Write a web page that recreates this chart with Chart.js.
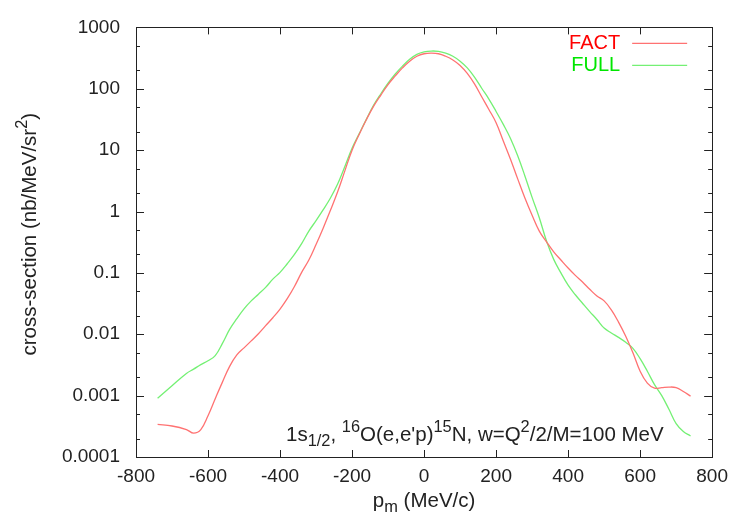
<!DOCTYPE html>
<html>
<head>
<meta charset="utf-8">
<title>1s1/2 16O(e,e'p)15N cross-section</title>
<script src="https://cdn.jsdelivr.net/npm/chart.js@4/dist/chart.umd.min.js"></script>
<style>
  html, body { margin: 0; padding: 0; background: #fff; }
  #chart { display: block; }
</style>
</head>
<body>
<canvas id="chart" width="736" height="520"></canvas>
<script>
// missing momentum p_m (MeV/c)
const pm = [-740, -700, -660, -640, -620, -600, -580, -560, -540, -520, -500, -480, -460, -440, -420,
  -400, -380, -360, -340, -320, -300, -280, -260, -240, -220, -200, -180, -160, -140, -120, -100, -80,
  -60, -40, -20, 0, 20, 40, 60, 80, 100, 120, 140, 160, 180, 200, 220, 240, 260, 280, 300, 320, 340,
  360, 380, 400, 420, 440, 460, 480, 500, 520, 540, 560, 580, 600, 620, 640, 660, 680, 700, 720, 740];

// cross-section (nb/MeV/sr^2)
const fact = [0.00034, 0.00032, 0.00028, 0.000245, 0.00028, 0.00047, 0.00089, 0.00166, 0.0030, 0.0046,
  0.0060, 0.0078, 0.0102, 0.0138, 0.0186, 0.0257, 0.038, 0.060, 0.102, 0.162, 0.29, 0.54, 1.05, 2.1, 4.6,
  10, 18.2, 31.6, 52, 79, 117, 162, 219, 282, 339, 372, 380, 372, 339, 295, 240, 178, 120, 74, 46, 28,
  14.1, 7.1, 3.4, 1.66, 0.87, 0.48, 0.32, 0.22, 0.162, 0.120, 0.091, 0.071, 0.054, 0.042, 0.035, 0.025,
  0.0158, 0.0093, 0.0050, 0.0025, 0.0016, 0.00132, 0.00135, 0.00138, 0.00135, 0.00117, 0.00098];

const full = [0.00091, 0.00145, 0.0023, 0.0027, 0.0032, 0.0037, 0.0045, 0.0071, 0.012, 0.018, 0.026,
  0.035, 0.045, 0.058, 0.079, 0.102, 0.141, 0.20, 0.30, 0.48, 0.71, 1.07, 1.66, 2.8, 5.4, 10.7, 18.6,
  32, 54, 83, 123, 174, 234, 302, 363, 398, 412, 407, 380, 339, 282, 219, 155, 102, 68, 42.7, 26.3, 15.5,
  8.1, 3.8, 1.70, 0.79, 0.33, 0.166, 0.100, 0.063, 0.044, 0.032, 0.0234, 0.0174, 0.0126, 0.0105, 0.0089,
  0.0074, 0.0059, 0.0040, 0.0025, 0.00151, 0.00100, 0.00060, 0.00035, 0.00026, 0.00022];

const seriesNames = ['FACT', 'FULL'];
const xTicks = [-800, -600, -400, -200, 0, 200, 400, 600, 800];
const yMajor = [0.0001, 0.001, 0.01, 0.1, 1, 10, 100, 1000];
const yLabels = ['0.0001', '0.001', '0.01', '0.1', '1', '10', '100', '1000'];
const yMinor = [0.0002, 0.0005, 0.002, 0.005, 0.02, 0.05, 0.2, 0.5, 2, 5, 20, 50, 200, 500];

const FONT = '"Liberation Sans", Arial, sans-serif';
const lineColors = ['#ff7272', '#74f074'];
const textColors = ['#ff0000', '#00e600'];

// draw text made of normal / sup / sub pieces
function drawRich(ctx, parts, x, y, size, align) {
  const fontOf = k => (k ? size * 0.8 : size) + 'px ' + FONT;
  const widths = parts.map(p => { ctx.font = fontOf(p[1]); return ctx.measureText(p[0]).width; });
  const total = widths.reduce((a, b) => a + b, 0);
  let cx = align === 'center' ? x - total / 2 : (align === 'right' ? x - total : x);
  ctx.textAlign = 'left';
  ctx.textBaseline = 'alphabetic';
  parts.forEach((p, i) => {
    ctx.font = fontOf(p[1]);
    const dy = p[1] === 'sup' ? -size * 0.45 : (p[1] === 'sub' ? size * 0.22 : 0);
    ctx.fillText(p[0], cx, y + dy);
    cx += widths[i];
  });
}

const decorations = {
  id: 'decorations',
  afterDatasetsDraw(chart) {
    const { ctx, chartArea: a, scales: { x, y } } = chart;
    ctx.save();
    ctx.strokeStyle = '#222';
    ctx.lineWidth = 1;
    ctx.beginPath();
    xTicks.forEach(v => {
      const px = Math.round(x.getPixelForValue(v)) + 0.5;
      ctx.moveTo(px, a.bottom); ctx.lineTo(px, a.bottom - 7);
      ctx.moveTo(px, a.top); ctx.lineTo(px, a.top + 7);
    });
    yMajor.forEach(v => {
      const py = Math.round(y.getPixelForValue(v)) + 0.5;
      ctx.moveTo(a.left, py); ctx.lineTo(a.left + 8, py);
      ctx.moveTo(a.right, py); ctx.lineTo(a.right - 8, py);
    });
    yMinor.forEach(v => {
      const py = Math.round(y.getPixelForValue(v)) + 0.5;
      ctx.moveTo(a.left, py); ctx.lineTo(a.left + 4, py);
      ctx.moveTo(a.right, py); ctx.lineTo(a.right - 4, py);
    });
    ctx.stroke();
    ctx.strokeRect(Math.round(a.left) + 0.5, Math.round(a.top) + 0.5,
      Math.round(a.right - a.left), Math.round(a.bottom - a.top));

    // legend: text then line sample
    chart.data.datasets.forEach((ds, i) => {
      const ly = a.top + 16 + i * 22;
      ctx.fillStyle = textColors[i];
      ctx.font = '20px ' + FONT;
      ctx.textAlign = 'right';
      ctx.textBaseline = 'middle';
      ctx.fillText(ds.label, a.right - 92, ly);
      ctx.strokeStyle = ds.borderColor;
      ctx.lineWidth = 1.3;
      ctx.beginPath();
      ctx.moveTo(a.right - 80, ly);
      ctx.lineTo(a.right - 25, ly);
      ctx.stroke();
    });

    // annotation inside the plot
    ctx.fillStyle = '#222';
    drawRich(ctx, [['1s', ''], ['1/2', 'sub'], [', ', ''], ['16', 'sup'], ["O(e,e'p)", ''], ['15', 'sup'],
      ['N, w=Q', ''], ['2', 'sup'], ['/2/M=100 MeV', '']], a.left + 150, a.bottom - 16, 20.5, 'left');

    // axis titles
    drawRich(ctx, [['p', ''], ['m', 'sub'], [' (MeV/c)', '']], (a.left + a.right) / 2, 507, 20.5, 'center');
    ctx.translate(36, (a.top + a.bottom) / 2 - 8);
    ctx.rotate(-Math.PI / 2);
    drawRich(ctx, [['cross-section (nb/MeV/sr', ''], ['2', 'sup'], [')', '']], 0, 0, 20.5, 'center');
    ctx.restore();
  }
};

const ctx = document.getElementById('chart').getContext('2d');
new Chart(ctx, {
  type: 'line',
  data: {
    datasets: [fact, full].map((vals, i) => ({
      label: seriesNames[i],
      data: pm.map((p, j) => ({ x: p, y: vals[j] })),
      borderColor: lineColors[i],
      borderWidth: 1.3,
      pointRadius: 0,
      fill: false,
      tension: 0.4
    }))
  },
  options: {
    responsive: false,
    animation: false,
    layout: { padding: { top: 20, right: 19, left: 0, bottom: 0 } },
    plugins: { legend: { display: false }, tooltip: { enabled: false } },
    scales: {
      x: {
        type: 'linear',
        min: -800,
        max: 800,
        afterBuildTicks: s => { s.ticks = xTicks.map(v => ({ value: v })); },
        afterFit: s => { s.height = 63; },
        grid: { display: false, drawTicks: false },
        border: { display: false },
        ticks: { color: '#222', padding: 8, maxRotation: 0, font: { family: FONT, size: 19 },
          callback: v => String(v) }
      },
      y: {
        type: 'logarithmic',
        min: 0.0001,
        max: 1000,
        afterBuildTicks: s => { s.ticks = yMajor.map(v => ({ value: v })); },
        afterFit: s => { s.width = 136; },
        grid: { display: false, drawTicks: false },
        border: { display: false },
        ticks: { color: '#222', padding: 16, font: { family: FONT, size: 19 },
          callback: (v, i) => yLabels[i] }
      }
    }
  },
  plugins: [decorations]
});
</script>
</body>
</html>
